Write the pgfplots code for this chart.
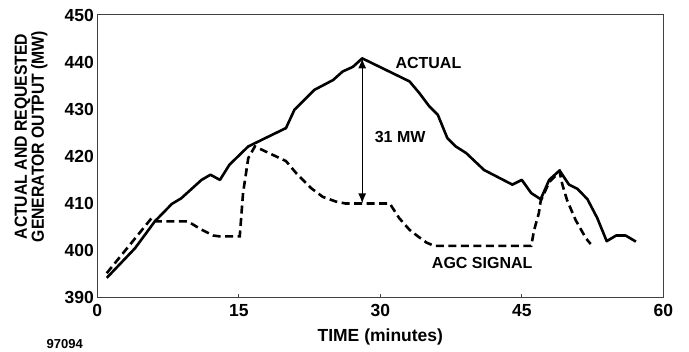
\documentclass[border=0pt]{standalone}
\usepackage{graphicx}
\usepackage{pgfplots}
\pgfplotsset{compat=1.18}
\usepackage{fontspec}
\setmainfont{Liberation Sans}
\usetikzlibrary{calc,arrows.meta}

\pgfplotstableread{
t v
1 394.2
4 400.5
6.1 406.2
7.9 409.9
8.9 411.1
11.05 415
12 416.1
13 415
14 418.2
16 422.1
20 426
20.9 429.9
23 434.1
25 436.2
26 438
27.1 439
28.08 440.8
33.1 435.9
34.15 433.4
35.2 430.6
36.1 428.8
37.1 423.9
38 422.1
39.1 420.7
41 417.1
44 414
45 415
46 412.2
47 410.9
47.9 415
49 417
50 414
50.9 413.1
51.96 410.9
53 406.9
54 402
55 403.2
56 403.2
57.1 401.9
}\actual

\pgfplotstableread{
t v
1 395.2
5.8 407
6.3 406.2
9.6 406.2
11 404.5
12.3 403.2
13 403
15.1 403
15.45 412.2
16 419.6
16.7 422.1
20 419
21.1 416.4
22.7 413.2
23.9 411.4
25.3 410.4
26.3 410
31 410
32 406.9
33.1 404.4
34 403
34.9 401.7
35.7 401
46 401
46.3 404.3
46.8 407.9
47 410.5
47.9 414.5
49 416.8
49.3 414
49.8 410.7
50.7 406.5
51.8 402.6
52.3 401.4
}\agc

\begin{document}
\begin{tikzpicture}
\begin{axis}[
  scale only axis, width=566pt, height=282.7pt,
  xmin=0, xmax=60, ymin=390, ymax=450,
  xtick={0,15,30,45,60}, ytick={390,400,...,450},
  tick align=inside, xtick pos=bottom, ytick pos=left,
  major tick length=4pt,
  ytick style={draw=none},
  axis line style={black!75, line width=1pt},
  xtick style={black!75, line width=1pt},
  ticklabel style={font=\fontsize{17.5}{18}\selectfont\bfseries},
  /pgf/number format/assume math mode=true,
  xticklabel style={yshift=-3pt},
  xlabel={TIME (minutes)},
  xlabel style={at={(axis description cs:0.5,0)}, anchor=center, yshift=-39pt,
    font=\fontsize{17.5}{18}\selectfont\bfseries},
  ylabel={\scalebox{0.9}[1]{ACTUAL AND REQUESTED}\\\scalebox{0.9}[1]{GENERATOR OUTPUT (MW)}},
  ylabel style={at={(axis description cs:-0.1171,0.570)}, anchor=center, rotate=0,
    align=center, font=\fontsize{17.5}{15}\selectfont\bfseries},
]
\addplot[black, line width=2.6pt, dash pattern=on 8pt off 4.5pt] table[x=t,y=v] {\agc};
\addplot[black, line width=2.6pt, line join=round] table[x=t,y=v] {\actual};
\addplot[black, line width=1.3pt, {Latex[length=10pt,width=8pt]}-{Latex[length=10pt,width=8pt]}]
  coordinates {(28.08,410) (28.08,440.8)};
\node[font=\fontsize{16}{16}\selectfont\bfseries] at (axis cs:35.1,439.9) {ACTUAL};
\node[font=\fontsize{16}{16}\selectfont\bfseries] at (axis cs:32.1,424.2) {31 MW};
\node[font=\fontsize{16}{16}\selectfont\bfseries] at (axis cs:40.8,397.4) {AGC SIGNAL};
\coordinate (bl) at (rel axis cs:0,0);
\coordinate (tr) at (rel axis cs:1,1);
\end{axis}
\node[font=\fontsize{13}{13}\selectfont\bfseries] at ($(bl)+(-32.6pt,-46.8pt)$) {97094};
\pgfresetboundingbox
\path ($(bl)+(-97.3pt,-54.3pt)$) rectangle ($(tr)+(25.7pt,15pt)$);
\end{tikzpicture}
\end{document}
